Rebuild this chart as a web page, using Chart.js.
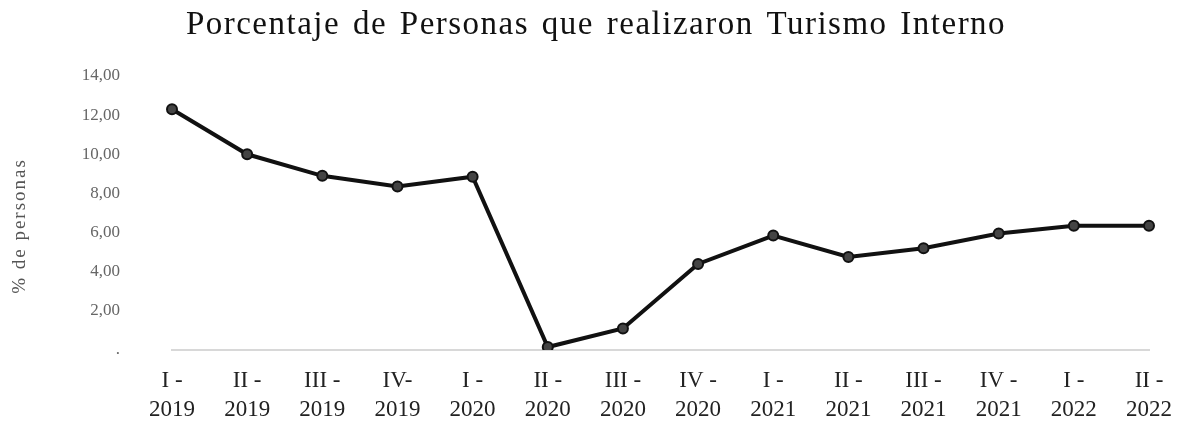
<!DOCTYPE html>
<html>
<head>
<meta charset="utf-8">
<script src="https://cdn.jsdelivr.net/npm/chart.js@4"></script>
<style>
html,body{margin:0;padding:0;background:#fff;}
#wrap{width:1188px;height:429px;position:relative;}
</style>
</head>
<body>
<div id="wrap"><canvas id="c" width="1188" height="429"></canvas></div>
<script>
const categories = [
  ['I -','2019'],['II -','2019'],['III -','2019'],['IV-','2019'],
  ['I -','2020'],['II -','2020'],['III -','2020'],['IV -','2020'],
  ['I -','2021'],['II -','2021'],['III -','2021'],['IV -','2021'],
  ['I -','2022'],['II -','2022']
];
const values = [12.3, 10.0, 8.9, 8.35, 8.85, 0.15, 1.1, 4.4, 5.85, 4.75, 5.2, 5.95, 6.35, 6.35];
const yTicks = [0, 2, 4, 6, 8, 10, 12, 14];
const titleText = 'Porcentaje de Personas que realizaron Turismo Interno';
const yTitle = '% de personas';

const serif = '"Liberation Serif", "DejaVu Serif", serif';

const spacedText = {
  id: 'spacedText',
  afterDraw(chart) {
    const ctx = chart.ctx;
    ctx.save();
    ctx.fillStyle = '#111';
    ctx.font = '33px ' + serif;
    ctx.textAlign = 'center';
    ctx.textBaseline = 'alphabetic';
    ctx.letterSpacing = '1.5px';
    ctx.wordSpacing = '3px';
    ctx.fillText(titleText, 596, 34);
    ctx.restore();

    ctx.save();
    ctx.fillStyle = '#555';
    ctx.font = '19px ' + serif;
    ctx.textAlign = 'center';
    ctx.textBaseline = 'middle';
    ctx.letterSpacing = '2px';
    ctx.translate(20, 226);
    ctx.rotate(-Math.PI / 2);
    ctx.fillText(yTitle, 0, 0);
    ctx.restore();
  }
};

new Chart(document.getElementById('c'), {
  type: 'line',
  data: {
    labels: categories,
    datasets: [{
      data: values,
      borderColor: '#111',
      borderWidth: 4,
      pointRadius: 5,
      pointBackgroundColor: '#444',
      pointBorderColor: '#111',
      pointBorderWidth: 2,
      tension: 0,
      fill: false
    }]
  },
  plugins: [spacedText],
  options: {
    responsive: false,
    animation: false,
    devicePixelRatio: 1,
    layout: { padding: { left: 8, right: 30, top: 76, bottom: 0 } },
    plugins: {
      legend: { display: false },
      tooltip: { enabled: false },
      title: { display: false }
    },
    scales: {
      x: {
        offset: false,
        grid: { display: false, drawTicks: false },
        border: { display: true, color: '#d8d8d8', width: 2, dash: [5, 4] },
        ticks: {
          color: '#222',
          font: { family: serif, size: 23, lineHeight: 1.26 },
          padding: 16,
          maxRotation: 0,
          autoSkip: false
        },
        afterFit: function(scale) { scale.height = 79; }
      },
      y: {
        min: 0,
        max: 14,
        afterBuildTicks: function(scale) { scale.ticks = yTicks.map(v => ({ value: v })); },
        grid: { display: false, drawTicks: false },
        border: { display: false },
        ticks: {
          color: '#666',
          font: { family: serif, size: 17 },
          padding: 52,
          callback: function(v) { return v === 0 ? '.' : v.toFixed(2).replace('.', ','); }
        },
        afterFit: function(scale) { scale.width = 164; }
      }
    }
  }
});
</script>
</body>
</html>
